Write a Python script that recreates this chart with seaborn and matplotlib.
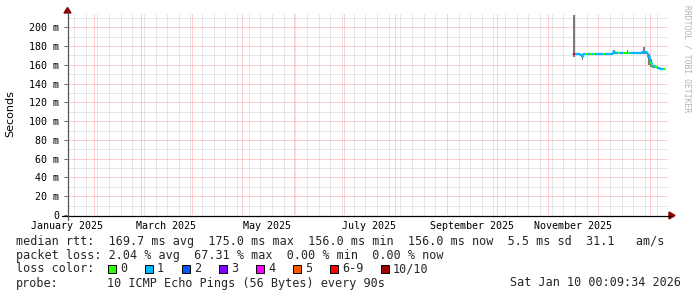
import numpy as np
import pandas as pd
import matplotlib
matplotlib.use("Agg")
import matplotlib.pyplot as plt
import matplotlib.dates as mdates
from matplotlib.patches import Rectangle, Polygon
from matplotlib.lines import Line2D
import seaborn as sns

# ---------------- data ----------------
start_day = "2025-11-16"
median_ms = [171, 171.5, 171, 171, 170.5, 168, 171, 171, 171, 171, 171, 171.5, 171.5, 171.5, 171.5,
             172, 172, 172, 172, 172, 172, 172, 172, 172, 173.5, 172.5, 172.5, 172.5, 172.5, 172.5,
             172.5, 172.5, 172.5, 172.5, 172.5, 172.5, 172.5, 172.5, 172.5, 173, 173, 173.5, 174, 173.5,
             173, 168, 162, 159, 158.5, 157.5, 157, 156.5, 156, 156, 156]
loss_idx = [6, 1, 1, 1, 1, 1, 1, 0, 0, 1, 0, 1, 0, 1, 1,
            1, 1, 1, 0, 1, 1, 1, 1, 1, 1, 1, 1, 0, 1, 1,
            0, 0, 1, 0, 1, 1, 1, 1, 1, 1, 1, 1, 1, 1,
            1, 1, 0, 0, 1, 0, 1, 1, 1, 1, 0]
smoke_lo = [168, 170.5, 170, 170, 169.5, 165.5, 170, 170, 170, 170, 170, 170.5, 170.5, 170.5, 170.5,
            171, 171, 171, 171, 171, 171, 171, 171, 171, 171.5, 171.5, 171.5, 171.5, 171.5, 171.5,
            171.5, 171.5, 171.5, 171.5, 171.5, 171.5, 171.5, 171.5, 171.5, 172, 172, 172, 172, 172,
            168, 160, 158, 157, 157, 156.5, 156, 155.5, 155, 155, 155]
smoke_hi = [213, 172.5, 172, 172, 171.5, 171, 172, 172, 172, 172, 172, 172.5, 172.5, 172.5, 172.5,
            173, 173, 173, 173, 173, 173, 173, 173, 173, 175.5, 173.5, 173.5, 173.5, 173.5, 173.5,
            173.5, 173.5, 176, 173.5, 173.5, 173.5, 173.5, 173.5, 173.5, 174, 174, 175, 179, 175,
            174, 172, 166, 160, 159.5, 158.5, 158, 157.5, 157, 157, 157]

loss_labels = ["0", "1", "2", "3", "4", "5", "6-9", "10/10"]
loss_colors = ["#26ff00", "#00b8ff", "#0059ff", "#7e00ff", "#ff00ff", "#ff5500", "#ff0000", "#a10000"]

month_labels = ["January 2025", "March 2025", "May 2025", "July 2025", "September 2025", "November 2025"]
month_label_dates = ["2025-01-16", "2025-03-16", "2025-05-16", "2025-07-16", "2025-09-16", "2025-11-16"]
y_ticks = [0, 20, 40, 60, 80, 100, 120, 140, 160, 180, 200]
y_tick_labels = ["0"] + [f"{v} m" for v in y_ticks[1:]]

line_rtt = "median rtt:  169.7 ms avg  175.0 ms max  156.0 ms min  156.0 ms now  5.5 ms sd  31.1   am/s"
line_loss = "packet loss: 2.04 % avg  67.31 % max  0.00 % min  0.00 % now"
line_probe_head = "probe:"
line_probe = "10 ICMP Echo Pings (56 Bytes) every 90s"
stamp = "Sat Jan 10 00:09:34 2026"
watermark = "RRDTOOL / TOBI OETIKER"
y_title = "Seconds"

x_start = pd.Timestamp("2025-01-15 20:00")
x_end = pd.Timestamp("2026-01-11 20:00")

# ---------------- figure ----------------
sns.set_style("white")
plt.rcParams["font.family"] = ["DejaVu Sans Mono"]

W, H = 697, 297
fig = plt.figure(figsize=(W / 100, H / 100), dpi=100)
fig.patch.set_facecolor("white")

def fx(x):
    return x / W

def fy(y):
    return 1 - y / H

L, R, T, B = 67, 668, 13, 215
ax = fig.add_axes([fx(L), fy(B), fx(R) - fx(L), fy(T) - fy(B)])
ax.set_facecolor("white")

dates = pd.date_range(start_day, periods=len(median_ms), freq="D")
df = pd.DataFrame({"date": dates, "median": median_ms, "lo": smoke_lo, "hi": smoke_hi,
                   "loss": loss_idx})
end_date = dates[-1] + pd.Timedelta(days=1)
df_ext = pd.concat([df, pd.DataFrame({"date": [end_date], "median": [median_ms[-1]],
                                      "lo": [smoke_lo[-1]], "hi": [smoke_hi[-1]],
                                      "loss": [loss_idx[-1]]})], ignore_index=True)

dot = (0, (1, 1))
ax.set_ylim(0, 215.2)
ax.set_xlim(x_start, x_end)
ax.yaxis.set_major_locator(matplotlib.ticker.FixedLocator(y_ticks))
ax.yaxis.set_minor_locator(matplotlib.ticker.MultipleLocator(10))
ax.set_yticklabels(y_tick_labels)
ax.xaxis.set_major_locator(mdates.MonthLocator())
ax.xaxis.set_minor_locator(mdates.WeekdayLocator(byweekday=mdates.MO))
ax.xaxis.set_major_formatter(matplotlib.ticker.NullFormatter())
ax.grid(which="minor", color="#d0d0d0", linestyle=dot, linewidth=0.72, zorder=0)
ax.grid(which="major", color="#ffa0a0", linestyle=dot, linewidth=0.72, zorder=0.5)
ax.set_axisbelow(True)
ax.tick_params(axis="y", which="major", length=2.5, width=0.72, color="#666666", pad=3,
               labelsize=7.2, labelcolor="#000000", direction="out", left=True)
ax.tick_params(axis="y", which="minor", length=0)
ax.tick_params(axis="x", which="both", length=0)
for s in ax.spines.values():
    s.set_visible(False)

# smoke
ax.fill_between(df_ext["date"], df_ext["lo"], df_ext["hi"], step="post",
                color="#7a7a7a", linewidth=0, zorder=2)
# median line (base, steps) with seaborn
sns.lineplot(data=df_ext, x="date", y="median", drawstyle="steps-post",
             color=loss_colors[1], linewidth=1.2, ax=ax, zorder=3, legend=False)
# loss-coloured segments
ax.hlines(df["median"], df["date"], df["date"] + pd.Timedelta(days=1),
          colors=[loss_colors[i] for i in df["loss"]], linewidth=1.6, zorder=4)
ax.set_xlabel("")
ax.set_ylabel("")

# month labels
blend = matplotlib.transforms.blended_transform_factory(ax.transData, fig.transFigure)
for lab, d in zip(month_labels, month_label_dates):
    ax.text(pd.Timestamp(d), fy(226), lab, transform=blend, ha="center", va="center",
            fontsize=7.2, color="black", clip_on=False)

# axes lines + arrows
fig.add_artist(Line2D([fx(62), fx(670)], [fy(215.5), fy(215.5)], color="black", lw=0.9,
                      transform=fig.transFigure))
fig.add_artist(Line2D([fx(67.5), fx(67.5)], [fy(220), fy(12)], color="#555555", lw=0.9,
                      transform=fig.transFigure))
fig.add_artist(Polygon([[fx(64), fy(13)], [fx(71), fy(13)], [fx(67.5), fy(7.5)]],
                       closed=True, color="#8b0000", transform=fig.transFigure))
fig.add_artist(Polygon([[fx(669), fy(212)], [fx(669), fy(219)], [fx(675), fy(215.5)]],
                       closed=True, color="#8b0000", transform=fig.transFigure))

# y title
fig.text(fx(10.5), fy(113.5), y_title, rotation=90, ha="center", va="center",
         fontsize=8, family="DejaVu Sans", color="black")

# watermark
fig.text(fx(687), fy(59), watermark, rotation=270, ha="center", va="center",
         fontsize=5.8, color="#b4b4b4")

# legend rows
fs = 8.5
fig.text(fx(16), fy(241), line_rtt, ha="left", va="center", fontsize=fs)
fig.text(fx(16), fy(255), line_loss, ha="left", va="center", fontsize=fs)
fig.text(fx(16), fy(269), "loss color:", ha="left", va="center", fontsize=fs)
fig.text(fx(16), fy(283), line_probe_head, ha="left", va="center", fontsize=fs)
fig.text(fx(107), fy(283), line_probe, ha="left", va="center", fontsize=fs)
fig.text(fx(681), fy(283), stamp, ha="right", va="center", fontsize=fs)

bx = 108
for lab, col in zip(loss_labels, loss_colors):
    fig.add_artist(Rectangle((fx(bx), fy(273)), fx(8), 8 / H, facecolor=col,
                             edgecolor="black", linewidth=0.7, transform=fig.transFigure))
    fig.text(fx(bx + 12), fy(269), lab, ha="left", va="center", fontsize=fs)
    bx += 12 + 7 * len(lab) + 18

fig.savefig("out.png", dpi=100, facecolor="white")
